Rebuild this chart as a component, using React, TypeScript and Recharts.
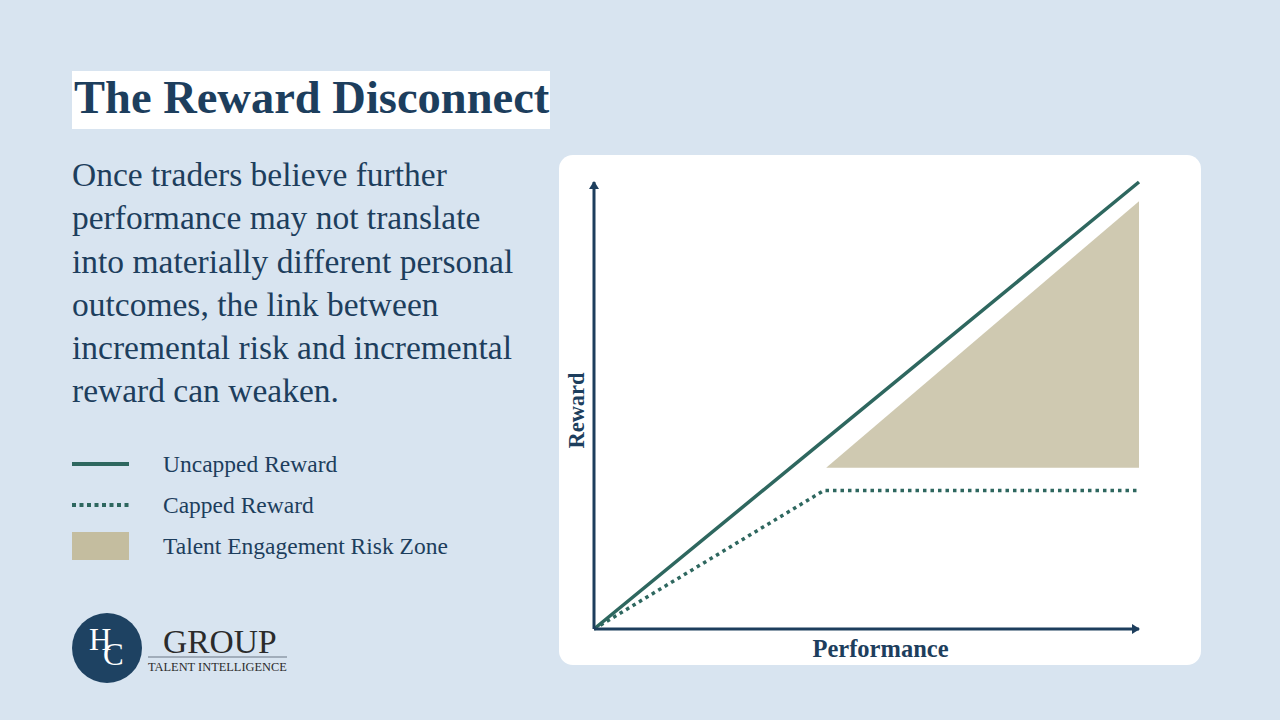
import React from 'react';
import {
  ComposedChart, Line, Area, XAxis, YAxis, ReferenceDot, Label,
} from 'recharts';

// Performance (x) and reward (y) on a 0-100 scale
const performance = [0, 42.2, 42.6, 100];
const uncappedReward = [0, 42.2, 42.6, 100];
const cappedReward = [0, 31, 31, 31];
const riskFloor: (number | null)[] = [null, null, 36.1, 36.1];
const riskCeiling: (number | null)[] = [null, null, 36.1, 95.7];

const legendItems = ['Uncapped Reward', 'Capped Reward', 'Talent Engagement Risk Zone'];

const chartData = performance.map((x, i) => ({
  x,
  uncapped: uncappedReward[i],
  capped: cappedReward[i],
  risk: riskFloor[i] == null ? null : [riskFloor[i], riskCeiling[i]],
}));

const NAVY = '#1d3e5d';
const TEAL = '#2e675f';
const SAND = '#cfc9b1';
const SERIF = '"Liberation Serif", "DejaVu Serif", serif';

const ArrowRight = (props: any) => {
  const { cx, cy } = props;
  return <path d={`M${cx + 1},${cy} L${cx - 7},${cy - 5} L${cx - 7},${cy + 5} Z`} fill={NAVY} />;
};

const ArrowUp = (props: any) => {
  const { cx, cy } = props;
  return <path d={`M${cx},${cy - 1} L${cx - 5},${cy + 7} L${cx + 5},${cy + 7} Z`} fill={NAVY} />;
};

function Logo() {
  return (
    <div style={{ position: 'absolute', left: 72, top: 613 }}>
      <svg width={220} height={72}>
        <circle cx={35} cy={35} r={35} fill="#1e4262" />
        {/* HC monogram: the C sits lower and overlaps the H */}
        <text fill="#fff" fontFamily={SERIF}>
          <tspan x={17} y={37} fontSize={31}>H</tspan>
          <tspan x={31} y={52} fontSize={31}>C</tspan>
        </text>
        <text x={91} y={40} fill="#2b2b2b" fontFamily={SERIF} fontSize={33.5}>GROUP</text>
        <line x1={76} y1={44} x2={215} y2={44} stroke="#6b7785" strokeWidth={1} />
        <text x={76} y={57.5} fill="#2b2b2b" fontFamily={SERIF} fontSize={12.4}>TALENT INTELLIGENCE</text>
      </svg>
    </div>
  );
}

function Swatch({ i }: { i: number }) {
  if (i === 0) return <div style={{ width: 57, height: 4, background: TEAL }} />;
  if (i === 1) {
    return (
      <svg width={57} height={4} style={{ display: 'block' }}>
        <line x1={0} y1={2} x2={57} y2={2} stroke={TEAL} strokeWidth={4} strokeDasharray="4 3.5" />
      </svg>
    );
  }
  return <div style={{ width: 57, height: 28, background: '#c4bd9f' }} />;
}

export default function App() {
  return (
    <div style={{ position: 'fixed', left: 0, top: 0, width: 1280, height: 720, background: '#d8e4f0', fontFamily: SERIF, overflow: 'hidden' }}>
      <div style={{ position: 'absolute', left: 72, top: 71, width: 478, height: 58, background: '#fff' }}>
        <div style={{ position: 'absolute', left: 2, top: 2, fontSize: 46.5, fontWeight: 700, color: NAVY, whiteSpace: 'nowrap', lineHeight: '50px' }}>
          The Reward Disconnect
        </div>
      </div>

      <div style={{ position: 'absolute', left: 72, top: 153, width: 480, fontSize: 33.5, lineHeight: '43.3px', color: NAVY, whiteSpace: 'nowrap' }}>
        Once traders believe further<br />
        performance may not translate<br />
        into materially different personal<br />
        outcomes, the link between<br />
        incremental risk and incremental<br />
        reward can weaken.
      </div>

      {legendItems.map((name, i) => (
        <div key={name} style={{ position: 'absolute', left: 72, top: [464, 505, 546][i], height: 0, display: 'flex', alignItems: 'center' }}>
          <div style={{ width: 91, display: 'flex', alignItems: 'center' }}><Swatch i={i} /></div>
          <span style={{ fontSize: 23.5, color: NAVY, whiteSpace: 'nowrap' }}>{name}</span>
        </div>
      ))}

      <Logo />

      <div style={{ position: 'absolute', left: 559, top: 155, width: 642, height: 510, background: '#fff', borderRadius: 14 }}>
        <ComposedChart width={642} height={510} data={chartData} margin={{ top: 27, right: 62, left: 0, bottom: 0 }}>
          <XAxis
            type="number"
            dataKey="x"
            domain={[0, 100]}
            tick={false}
            tickLine={false}
            height={36}
            axisLine={{ stroke: NAVY, strokeWidth: 3 }}
          >
            <Label
              content={({ viewBox }: any) => (
                <text x={viewBox.x + viewBox.width / 2 + 14} y={viewBox.y + 28} textAnchor="middle" fill={NAVY} fontFamily={SERIF} fontSize={24.5} fontWeight={700}>
                  Performance
                </text>
              )}
            />
          </XAxis>
          <YAxis
            type="number"
            domain={[0, 100]}
            tick={false}
            tickLine={false}
            width={35}
            axisLine={{ stroke: NAVY, strokeWidth: 3 }}
          >
            <Label
              content={({ viewBox }: any) => {
                const cx = viewBox.x + 17;
                const cy = viewBox.y + viewBox.height / 2 + 5;
                return (
                  <text x={cx} y={cy} transform={`rotate(-90, ${cx}, ${cy})`} textAnchor="middle" dominantBaseline="central" fill={NAVY} fontFamily={SERIF} fontSize={22.5} fontWeight={700}>
                    Reward
                  </text>
                );
              }}
            />
          </YAxis>
          <Area
            type="linear"
            dataKey="risk"
            stroke="none"
            fill={SAND}
            fillOpacity={1}
            isAnimationActive={false}
            activeDot={false}
          />
          <Line
            type="linear"
            dataKey="capped"
            stroke={TEAL}
            strokeWidth={3.5}
            strokeDasharray="3.5 4"
            dot={false}
            activeDot={false}
            isAnimationActive={false}
          />
          <Line
            type="linear"
            dataKey="uncapped"
            stroke={TEAL}
            strokeWidth={3.5}
            dot={false}
            activeDot={false}
            isAnimationActive={false}
          />
          <ReferenceDot x={100} y={0} r={0} shape={ArrowRight} />
          <ReferenceDot x={0} y={100} r={0} shape={ArrowUp} />
        </ComposedChart>
      </div>
    </div>
  );
}
